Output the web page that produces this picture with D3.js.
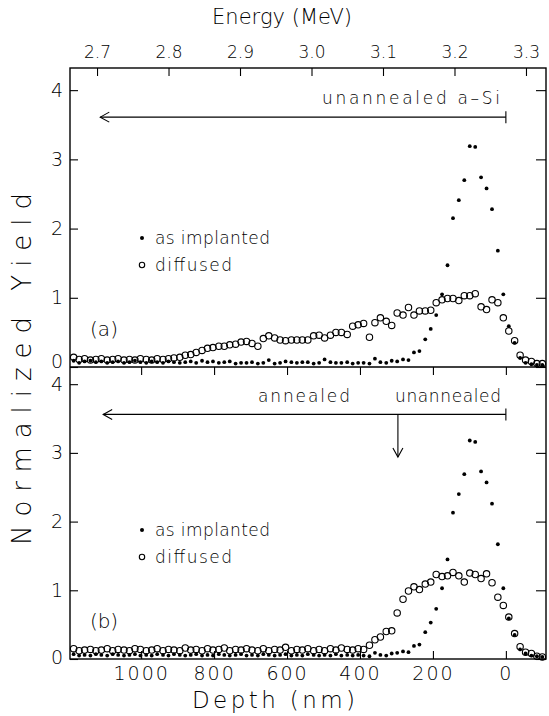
<!DOCTYPE html>
<html><head><meta charset="utf-8">
<script src="https://cdn.jsdelivr.net/npm/d3@7"></script>
<style>
body{margin:0;background:#fff}
text{font-family:'DejaVu Sans',sans-serif;font-weight:200;fill:#000}
</style></head><body>
<svg id="c" width="549" height="716"></svg>
<script>
const depth = [-100,-85,-70,-54,-39,-24,-8,7,22,38,53,68,84,99,114,129,145,160,175,191,206,221,237,252,267,282,298,313,328,344,359,374,390,405,420,435,451,466,481,497,512,527,543,558,573,588,604,619,634,650,665,680,696,711,726,741,757,772,787,803,818,833,849,864,879,894,910,925,940,956,971,986,1002,1017,1032,1047,1063,1078,1093,1109,1124,1139,1155,1170,1185];

const implantedA = [.03,.03,.04,.06,.13,.35,.59,1.05,1.68,2.28,2.58,2.74,3.18,3.19,2.70,2.41,2.15,1.47,1.05,.75,.55,.40,.23,.21,.10,.11,.08,.09,.06,.07,.12,.05,.06,.06,.05,.07,.06,.06,.07,.11,.06,.05,.07,.07,.06,.07,.08,.06,.05,.10,.06,.05,.07,.06,.06,.05,.08,.07,.06,.08,.07,.09,.06,.08,.07,.06,.07,.08,.06,.07,.08,.06,.07,.09,.07,.06,.08,.07,.06,.08,.07,.09,.08,.06,.09];

const diffusedA = [.05,.05,.08,.10,.17,.38,.52,.71,.93,.97,.83,.87,1.06,1.03,1.03,.96,.99,.99,.97,.93,.82,.81,.81,.75,.86,.75,.78,.60,.66,.71,.64,.43,.63,.61,.59,.47,.50,.50,.46,.42,.46,.45,.39,.39,.39,.39,.38,.39,.42,.45,.41,.30,.34,.37,.36,.33,.32,.30,.30,.28,.27,.24,.21,.18,.17,.14,.13,.12,.11,.12,.10,.11,.12,.10,.11,.10,.12,.11,.10,.12,.11,.10,.12,.11,.14];

const implantedB = [.03,.04,.05,.08,.14,.35,.59,1.03,1.67,2.26,2.57,2.73,3.16,3.18,2.69,2.40,2.13,1.45,1.03,.73,.53,.39,.21,.19,.10,.11,.09,.08,.05,.06,.09,.04,.05,.06,.05,.06,.05,.07,.05,.06,.05,.06,.07,.05,.06,.05,.07,.06,.05,.06,.07,.05,.06,.05,.07,.06,.05,.06,.07,.05,.06,.05,.07,.06,.05,.06,.07,.05,.06,.07,.05,.06,.05,.07,.06,.05,.06,.07,.05,.06,.07,.05,.06,.05,.07];

const diffusedB = [.03,.04,.08,.10,.18,.37,.61,.78,.90,1.11,1.24,1.17,1.23,1.25,1.12,1.21,1.26,1.21,1.20,1.23,1.12,1.09,1.01,1.05,.99,.87,.67,.41,.40,.32,.28,.20,.14,.15,.13,.14,.16,.13,.15,.12,.14,.12,.15,.13,.14,.12,.17,.13,.14,.12,.15,.12,.13,.15,.13,.14,.12,.16,.14,.13,.15,.12,.14,.13,.16,.12,.13,.14,.12,.15,.13,.12,.14,.15,.12,.13,.14,.12,.15,.13,.12,.14,.13,.12,.15];

const energyTicks = [2.7,2.8,2.9,3.0,3.1,3.2,3.3];
const depthTicks = [0,200,400,600,800,1000];
const yieldTicks = [0,1,2,3,4];

const svg = d3.select('#c');
const L = 70, R = 546, T = 68, M = 367, B = 659;
const x = d3.scaleLinear().domain([1195,-110]).range([L,R]);
const xE = d3.scaleLinear().domain([2.6622,3.328]).range([L,R]);

const panels = [
  {y: d3.scaleLinear().domain([0,4.32]).range([M,T]), imp: implantedA, dif: diffusedA, tag:'(a)', dy:0, zeroShift:-6},
  {y: d3.scaleLinear().domain([0,4.25]).range([B,M]), imp: implantedB, dif: diffusedB, tag:'(b)', dy:292, zeroShift:-2}
];

function styleAxis(g){
  g.select('.domain').remove();
  g.selectAll('line').attr('stroke','#000').attr('stroke-width',1.1);
  g.selectAll('text').attr('fill','#000').style('font-family',"'DejaVu Sans',sans-serif").style('font-weight',200);
}

// top energy axis
svg.append('g').attr('transform',`translate(0,${T})`)
  .call(d3.axisTop(xE).tickValues(energyTicks).tickFormat(d3.format('.1f')).tickSizeInner(-8).tickSizeOuter(0).tickPadding(10))
  .call(styleAxis).call(g=>g.selectAll('text').attr('font-size',17));

// middle ticks (pointing into panel b)
svg.append('g').attr('transform',`translate(0,${M})`)
  .call(d3.axisTop(x).tickValues(depthTicks).tickFormat('').tickSizeInner(-8).tickSizeOuter(0))
  .call(styleAxis);

// bottom depth axis
svg.append('g').attr('transform',`translate(0,${B})`)
  .call(d3.axisBottom(x).tickValues(depthTicks).tickFormat(d=>String(d)).tickSizeInner(-8).tickSizeOuter(0).tickPadding(8))
  .call(styleAxis).call(g=>g.selectAll('text').attr('font-size',19).style('letter-spacing','2px'));

panels.forEach(p=>{
  svg.append('g').attr('transform',`translate(${L},0)`)
    .call(d3.axisLeft(p.y).tickValues(yieldTicks).tickFormat(d3.format('d')).tickSizeInner(-8).tickSizeOuter(0).tickPadding(7))
    .call(styleAxis)
    .call(g=>g.selectAll('text').attr('font-size',19))
    .call(g=>g.selectAll('.tick').filter(d=>d===0).select('text').attr('y',p.zeroShift));
  svg.append('g').attr('transform',`translate(${R},0)`)
    .call(d3.axisRight(p.y).tickValues(yieldTicks).tickFormat('').tickSizeInner(-10).tickSizeOuter(0))
    .call(styleAxis);

  const g = svg.append('g');
  g.selectAll('circle.imp').data(p.imp).join('circle').attr('class','imp')
    .attr('cx',(d,i)=>x(depth[i])).attr('cy',d=>p.y(d)).attr('r',1.9).attr('fill','#000');
  g.selectAll('circle.dif').data(p.dif).join('circle').attr('class','dif')
    .attr('cx',(d,i)=>x(depth[i])).attr('cy',d=>p.y(d)).attr('r',3.2)
    .attr('fill','none').attr('stroke','#000').attr('stroke-width',1.1);

  // legend
  svg.append('circle').attr('cx',142).attr('cy',238+p.dy).attr('r',2).attr('fill','#000');
  svg.append('text').attr('x',155).attr('y',244+p.dy).attr('font-size',17).attr('textLength',115).text('as implanted');
  svg.append('circle').attr('cx',142).attr('cy',265+p.dy).attr('r',2.7).attr('fill','none').attr('stroke','#000').attr('stroke-width',1.1);
  svg.append('text').attr('x',155).attr('y',271+p.dy).attr('font-size',17).attr('textLength',77).text('diffused');
  svg.append('text').attr('x',90).attr('y',336+p.dy).attr('font-size',20).attr('textLength',28).text(p.tag);
});

// frame
svg.append('rect').attr('x',L).attr('y',T).attr('width',R-L).attr('height',B-T)
  .attr('fill','none').attr('stroke','#000').attr('stroke-width',1.4);
svg.append('line').attr('x1',L).attr('x2',R).attr('y1',M).attr('y2',M).attr('stroke','#000').attr('stroke-width',1.4);

// arrows
function hArrow(yScale, v, tipDepth){
  const y0 = yScale(v), x0 = x(0), x1 = x(tipDepth);
  const g = svg.append('g').attr('stroke','#000').attr('stroke-width',1.1).attr('fill','none');
  g.append('line').attr('x1',x0).attr('x2',x1).attr('y1',y0).attr('y2',y0);
  g.append('line').attr('x1',x0).attr('x2',x0).attr('y1',y0-6).attr('y2',y0+6);
  g.append('path').attr('d',`M${x1+9},${y0-5}L${x1},${y0}L${x1+9},${y0+5}`);
}
hArrow(panels[0].y, 3.61, 1112);
hArrow(panels[1].y, 3.56, 1104);
// down arrow in panel b
{
  const xd = x(296), y0 = panels[1].y(3.56), y1 = panels[1].y(2.94);
  const g = svg.append('g').attr('stroke','#000').attr('stroke-width',1.1).attr('fill','none');
  g.append('line').attr('x1',xd).attr('x2',xd).attr('y1',y0).attr('y2',y1);
  g.append('path').attr('d',`M${xd-5},${y1-9}L${xd},${y1}L${xd+5},${y1-9}`);
}

svg.append('text').attr('x',322).attr('y',104).attr('font-size',17).attr('textLength',178).text('unannealed a–Si');
svg.append('text').attr('x',258).attr('y',402).attr('font-size',17).attr('textLength',92).text('annealed');
svg.append('text').attr('x',395).attr('y',402).attr('font-size',17).attr('textLength',106).text('unannealed');

// axis titles
svg.append('text').attr('x',212).attr('y',24).attr('font-size',21).attr('textLength',140).text('Energy (MeV)');
svg.append('text').attr('x',192).attr('y',708).attr('font-size',23).attr('textLength',163).text('Depth (nm)');
svg.append('text').attr('transform','translate(31,545) rotate(-90)').attr('font-size',26).attr('textLength',352).text('Normalized Yield');
</script>
</body></html>
